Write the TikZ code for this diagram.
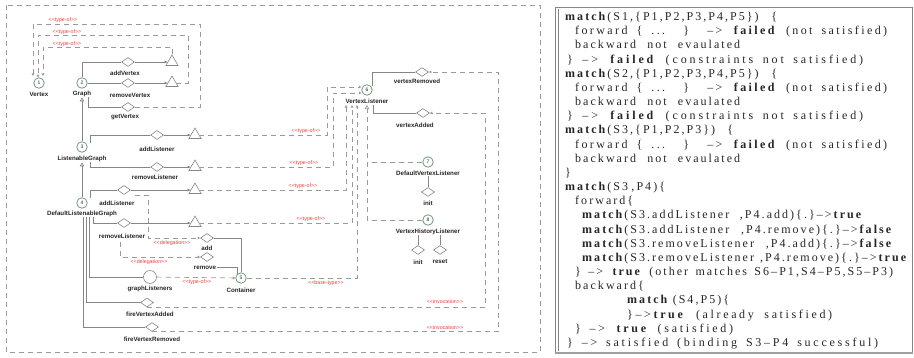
\documentclass[tikz,border=0pt]{standalone}
\usepackage{fontspec}
\setmainfont{Liberation Serif}
\setsansfont{Liberation Sans}
\newfontfamily\codefont[LetterSpace=17]{Liberation Serif}
\newfontfamily\diafont{Liberation Sans}
\usetikzlibrary{arrows.meta,shapes.geometric}
\definecolor{lgray}{HTML}{858585}
\definecolor{dgray}{HTML}{9A9A9A}
\definecolor{numc}{HTML}{6E9A78}
\definecolor{redl}{HTML}{E8403A}
\definecolor{txt}{HTML}{262626}
\newcommand{\codeln}[2]{\makebox[#1pt][s]{#2}}
\newcommand{\codelnw}[3]{\makebox[#1pt][s]{\addfontfeature{LetterSpace=#2}#3}}
\hbadness=10000
\hfuzz=50pt
\begin{document}
\begin{tikzpicture}[x=1pt,y=-1pt,
  num/.style={circle,draw=numc,line width=0.8pt,inner sep=0pt,minimum size=10.5pt,font=\diafont\fontsize{5}{5}\selectfont,text=txt},
  lbl/.style={font=\diafont\bfseries\fontsize{6.2}{7}\selectfont,text=txt,inner sep=0.3pt},
  rlbl/.style={font=\diafont\fontsize{5.3}{6}\selectfont,text=redl,inner sep=0pt},
  dia/.style={diamond,draw=lgray,line width=0.6pt,minimum width=13pt,minimum height=9pt,inner sep=0pt},
  tri/.style={regular polygon,regular polygon sides=3,draw=lgray,line width=0.6pt,minimum size=14pt,inner sep=0pt},
  sol/.style={draw=lgray,line width=0.7pt},
  dsh/.style={draw=dgray,line width=0.7pt,dash pattern=on 5pt off 4pt},
  sarr/.style={-{Triangle[length=3pt,width=2.6pt]}},
  oarr/.style={-{Triangle[open,length=2.6pt,width=2.8pt]}},
  inh/.style={-{Triangle[open,length=4pt,width=4.5pt]}},
  code/.style={anchor=base west,font=\codefont\fontsize{12}{13}\selectfont,text=txt,inner sep=0pt},
]
\useasboundingbox (0,0) rectangle (914,357);
% ---------- left box
\draw[dsh,draw=dgray] (6,5) rectangle (540,352);
% ---------- class nodes
\node[num] (n1) at (39,83) {1};
\node[lbl] (lV) at (39,94) {Vertex};
\node[num] (n2) at (82,83) {2};
\node[lbl] (lG) at (82,94) {Graph};
\node[num] (n3) at (82,147) {3};
\node[lbl] (lLG) at (82,159) {ListenableGraph};
\node[num] (n4) at (82,203) {4};
\node[lbl] (lDLG) at (82,214) {DefaultListenableGraph};
\node[num] (n5) at (241,278) {5};
\node[lbl] (lC) at (241,290) {Container};
\node[num] (n6) at (367,90) {6};
\node[lbl] (lVL) at (367,101) {VertexListener};
\node[num] (n7) at (428,162) {7};
\node[lbl] (lDVL) at (428,173) {DefaultVertexListener};
\node[num] (n8) at (428,220) {8};
\node[lbl] (lVHL) at (428,232) {VertexHistoryListener};
% ---------- diamonds (methods)
\node[dia] (dAV) at (128,62) {};
\node[lbl] (lAV) at (125,73) {addVertex};
\node[dia] (dRV) at (128,83) {};
\node[lbl] (lRV) at (130,95) {removeVertex};
\node[dia] (dGV) at (128,107) {};
\node[lbl] (lGV) at (125,117) {getVertex};
\node[dia] (dAL3) at (157,135) {};
\node[lbl] (lAL3) at (157,149) {addListener};
\node[dia] (dRL3) at (157,167) {};
\node[lbl] (lRL3) at (155,177) {removeListener};
\node[dia] (dAL4) at (124,190) {};
\node[lbl] (lAL4) at (117,203) {addListener};
\node[dia] (dRL4) at (124,223) {};
\node[lbl] (lRL4) at (122,236) {removeListener};
\node[dia] (dAdd) at (207,238) {};
\node[lbl] (lAdd) at (207,248) {add};
\node[dia] (dRem) at (207,257) {};
\node[lbl] (lRem) at (205,267.5) {remove};
\node[circle,draw=lgray,line width=0.6pt,minimum size=13pt,inner sep=0pt] (gL) at (150,277) {};
\node[lbl] (lgL) at (150,289) {graphListeners};
\node[dia] (dFVA) at (147,302.5) {};
\node[lbl] (lFVA) at (150,314) {fireVertexAdded};
\node[dia] (dFVR) at (152,327) {};
\node[lbl] (lFVR) at (152,339) {fireVertexRemoved};
\node[dia] (dVR) at (422,72) {};
\node[lbl] (lVR) at (417,81) {vertexRemoved};
\node[dia] (dVA) at (423,113) {};
\node[lbl] (lVA) at (415,125) {vertexAdded};
\node[dia] (dI7) at (428,192) {};
\node[lbl] (lI7) at (428,203) {init};
\node[dia] (dI8) at (418,250) {};
\node[lbl] (lI8) at (418,262) {init};
\node[dia] (dRs) at (440,250) {};
\node[lbl] (lRs) at (440,262) {reset};
% ---------- triangles (types)
\node[tri] (tAV) at (172,62) {};
\node[tri] (tRV) at (172,83) {};
\node[tri] (tAL3) at (195,135) {};
\node[tri] (tRL3) at (195,167) {};
\node[tri] (tAL4) at (195,190) {};
\node[tri] (tRL4) at (195,223) {};
% ---------- solid connectors
\draw[sol] (n2) |- (dAV);
\draw[sol,sarr] (dAV) -- (tAV);
\draw[sol] (n2) -- (dRV);
\draw[sol,sarr] (dRV) -- (tRV);
\coordinate (g1) at (88,97);
\draw[sol] (g1) |- (dGV);
\coordinate (g3a) at (90,143);
\draw[sol] (g3a) |- (dAL3);
\draw[sol,sarr] (dAL3) -- (tAL3);
\coordinate (g3b) at (90,162);
\draw[sol] (g3b) |- (dRL3);
\draw[sol,sarr] (dRL3) -- (tRL3);
\draw[sol,inh] (n3) -- (lG);
\draw[sol,inh] (n4) -- (lLG);
\coordinate (g4a) at (90,198);
\draw[sol] (g4a) |- (dAL4);
\draw[sol,sarr] (dAL4) -- (tAL4);
\coordinate (g4b) at (93,217);
\draw[sol] (g4b) |- (dRL4);
\draw[sol,sarr] (dRL4) -- (tRL4);
\coordinate (g4c) at (89,217);
\draw[sol] (g4c) |- (gL);
\coordinate (g4d) at (86,217);
\draw[sol] (g4d) |- (dFVA);
\coordinate (g4e) at (83,217);
\draw[sol] (g4e) |- (dFVR);
\draw[sol] (dAdd) -| (n5);
\draw[sol] (lRem) -| (n5.north west);
\coordinate (v6a) at (372,86);
\draw[sol] (v6a) |- (dVR);
\coordinate (v6b) at (373,105);
\draw[sol] (v6b) |- (dVA);
\draw[sol] (lDVL) -- (dI7);
\draw[sol] (lVHL.south -| dI8) -- (dI8);
\draw[sol] (lVHL.south -| dRs) -- (dRs);
% ---------- type-of to Vertex
\coordinate (k1) at (200,24);
\coordinate (k2) at (188,35);
\coordinate (k3) at (43,47);
\coordinate (a1) at (33,76);
\coordinate (a2) at (38,77.5);
\coordinate (a3) at (43,76);
\draw[dsh,oarr] (dGV) -| (k1) -| (a1);
\draw[dsh,oarr] (tRV) -| (k2) -| (a2);
\draw[dsh,oarr] (tAV.corner 1) |- (k3) -- (a3);
\node[rlbl] (r1) at (63,20.5) {<<type-of>>};
\node[rlbl] (r2) at (67,31.8) {<<type-of>>};
\node[rlbl] (r3) at (67,43.8) {<<type-of>>};
% ---------- type-of to VertexListener
\coordinate (k4) at (327,87);
\coordinate (k5) at (333,93);
\draw[dsh,oarr] (tAL3) -| (k4) -- (k4 -| n6.west);
\draw[dsh,oarr] (tRL3) -| (k5) -- (k5 -| n6.west);
\node[rlbl] (r4) at (306,131) {<<type-of>>};
\node[rlbl] (r5) at (304,163.5) {<<type-of>>};
\coordinate (b1) at (346,105);
\coordinate (b2) at (352,105);
\coordinate (b3) at (357,105);
\draw[dsh,oarr] (tAL4) -| (b1);
\draw[dsh,oarr] (tRL4) -| (b2);
\draw[dsh,oarr] (n5) -| (b3);
\node[rlbl] (r6) at (303,186.5) {<<type-of>>};
\node[rlbl] (r7) at (311,219.5) {<<type-of>>};
\node[rlbl] (r8) at (326,283) {<<base-type>>};
% ---------- implementations of VertexListener
\coordinate (iv) at (367,105);
\draw[dsh,inh] (n8) -| (iv);
\draw[dsh] (n7) -- (n7 -| iv);
% ---------- delegation
\coordinate (d1) at (135,195);
\coordinate (d1b) at (148,195);
\draw[dsh,oarr] (d1) -- (d1b) |- (dAdd);
\coordinate (d2) at (120,242);
\draw[dsh,oarr] (d2) |- (dRem);
\node[rlbl] (r9) at (172,243) {<<delegation>>};
\node[rlbl] (r10) at (149,262.5) {<<delegation>>};
% ---------- graphListeners type-of Container
\draw[dsh,oarr] (gL) -- (n5);
\node[rlbl] (r11) at (197,282) {<<type-of>>};
% ---------- invocations
\coordinate (q1) at (485,0);
\coordinate (q2) at (498,0);
\draw[dsh,oarr] (dFVA.south) -- (dFVA.south -| q1) |- (dVA);
\draw[dsh,oarr] (dFVR.south) -- (dFVR.south -| q2) |- (dVR);
\node[rlbl] (r12) at (445,302) {<<invocation>>};
\node[rlbl] (r13) at (445,328) {<<invocation>>};
% ---------- right panel
\draw[lgray,line width=1pt] (555,7) -- (912,7) -- (912,353);
\draw[lgray,line width=0.6pt] (555,7) -- (555,353);
\draw[lgray,line width=0.6pt] (558,9) -- (558,351);
\draw[gray!75,line width=1.8pt] (555,353) -- (912.5,353);
\node[code] (c1) at (565,20.5) {\codeln{212}{\textbf{match}(S1,\{P1,P2,P3,P4,P5\}) \{}};
\node[code] (c2) at (575,34.67) {\codelnw{312}{20}{forward \{ ... \} –> \textbf{failed} (not satisfied)}};
\node[code] (c3) at (575,48.84) {\codeln{165}{backward not evaulated}};
\node[code] (c4) at (567,63.01) {\codelnw{296}{24}{\} –> \textbf{failed} (constraints not satisfied)}};
\node[code] (c5) at (565,77.18) {\codeln{212}{\textbf{match}(S2,\{P1,P2,P3,P4,P5\}) \{}};
\node[code] (c6) at (575,91.35) {\codelnw{312}{20}{forward \{ ... \} –> \textbf{failed} (not satisfied)}};
\node[code] (c7) at (575,105.52) {\codeln{165}{backward not evaulated}};
\node[code] (c8) at (567,119.69) {\codelnw{296}{24}{\} –> \textbf{failed} (constraints not satisfied)}};
\node[code] (c9) at (565,133.86) {\codeln{168}{\textbf{match}(S3,\{P1,P2,P3\}) \{}};
\node[code] (c10) at (575,148.03) {\codelnw{312}{20}{forward \{ ... \} –> \textbf{failed} (not satisfied)}};
\node[code] (c11) at (575,162.2) {\codeln{165}{backward not evaulated}};
\node[code] (c12) at (565,176.37) {\}};
\node[code] (c13) at (565,190.54) {\codeln{97}{\textbf{match}(S3 ,P4)\{}};
\node[code] (c14) at (575,204.71) {forward\{};
\node[code] (c15) at (582,218.88) {\codeln{281}{\textbf{match}(S3.addListener ,P4.add)\{.\}–>\textbf{true}}};
\node[code] (c16) at (582,233.05) {\codeln{311}{\textbf{match}(S3.addListener ,P4.remove)\{.\}–>\textbf{false}}};
\node[code] (c17) at (582,247.22) {\codeln{311}{\textbf{match}(S3.removeListener ,P4.add)\{.\}–>\textbf{false}}};
\node[code] (c18) at (582,261.39) {\codeln{326}{\textbf{match}(S3.removeListener ,P4.remove)\{.\}–>\textbf{true}}};
\node[code] (c19) at (575,275.56) {\codeln{318}{\} –> \textbf{true} (other matches S6–P1,S4–P5,S5–P3)}};
\node[code] (c20) at (575,289.73) {backward\{};
\node[code] (c21) at (627,303.9) {\codeln{70}{\textbf{match} (S4,P5)\{}};
\node[code] (c22) at (627,318.07) {\codelnw{205}{22}{\}–>\textbf{true} (already satisfied)}};
\node[code] (c23) at (575,332.24) {\codelnw{158}{23}{\} –> \textbf{true} (satisfied)}};
\node[code] (c24) at (567,346.41) {\codelnw{311}{23}{\} –> satisfied (binding S3–P4 successful)}};
\end{tikzpicture}
\end{document}
